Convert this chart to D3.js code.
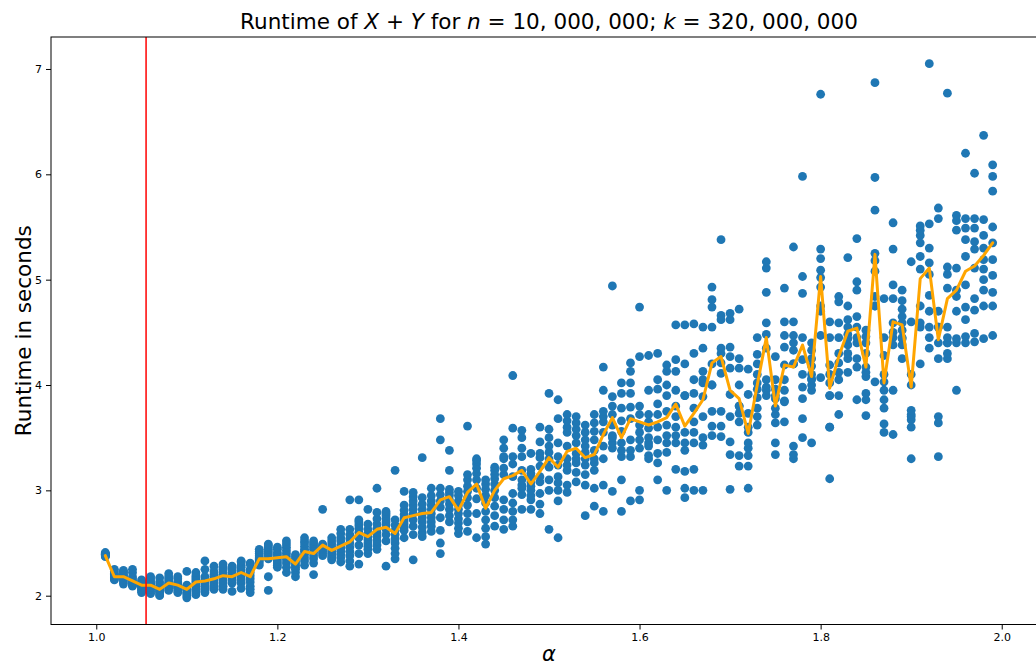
<!DOCTYPE html>
<html>
<head>
<meta charset="utf-8">
<script src="https://cdn.jsdelivr.net/npm/d3@7"></script>
<style>
  html, body { margin: 0; padding: 0; background: #ffffff; }
  svg { display: block; }
  text { font-family: "DejaVu Sans", sans-serif; }
</style>
</head>
<body>
<svg id="chart" width="1036" height="667"></svg>
<script>
// Exponent alpha of each benchmark run
const alphas = [
  1.01, 1.02, 1.03, 1.04, 1.05, 1.06, 1.07, 1.08, 1.09, 1.10,
  1.11, 1.12, 1.13, 1.14, 1.15, 1.16, 1.17, 1.18, 1.19, 1.20,
  1.21, 1.22, 1.23, 1.24, 1.25, 1.26, 1.27, 1.28, 1.29, 1.30,
  1.31, 1.32, 1.33, 1.34, 1.35, 1.36, 1.37, 1.38, 1.39, 1.40,
  1.41, 1.42, 1.43, 1.44, 1.45, 1.46, 1.47, 1.48, 1.49, 1.50,
  1.51, 1.52, 1.53, 1.54, 1.55, 1.56, 1.57, 1.58, 1.59, 1.60,
  1.61, 1.62, 1.63, 1.64, 1.65, 1.66, 1.67, 1.68, 1.69, 1.70,
  1.71, 1.72, 1.73, 1.74, 1.75, 1.76, 1.77, 1.78, 1.79, 1.80,
  1.81, 1.82, 1.83, 1.84, 1.85, 1.86, 1.87, 1.88, 1.89, 1.90,
  1.91, 1.92, 1.93, 1.94, 1.95, 1.96, 1.97, 1.98, 1.99
];

// Measured runtimes (seconds), ten repetitions per alpha
const runtimeSamples = [
  [2.37,2.38,2.38,2.39,2.39,2.39,2.40,2.40,2.41,2.38],
  [2.15,2.16,2.17,2.17,2.18,2.19,2.20,2.21,2.23,2.25],
  [2.11,2.13,2.15,2.16,2.18,2.19,2.20,2.22,2.23,2.24],
  [2.09,2.10,2.11,2.12,2.13,2.14,2.16,2.18,2.22,2.25],
  [2.03,2.05,2.06,2.08,2.09,2.10,2.11,2.12,2.13,2.15],
  [2.02,2.04,2.06,2.08,2.10,2.11,2.12,2.14,2.16,2.18],
  [2.00,2.01,2.03,2.04,2.05,2.06,2.08,2.10,2.13,2.17],
  [2.05,2.07,2.09,2.10,2.11,2.12,2.14,2.16,2.18,2.21],
  [2.03,2.05,2.07,2.08,2.09,2.10,2.12,2.13,2.16,2.18],
  [1.98,2.00,2.02,2.03,2.05,2.06,2.07,2.09,2.10,2.23],
  [2.01,2.04,2.06,2.09,2.11,2.13,2.15,2.17,2.19,2.22],
  [2.03,2.05,2.07,2.09,2.11,2.13,2.15,2.18,2.25,2.33],
  [2.06,2.08,2.10,2.12,2.14,2.16,2.18,2.20,2.23,2.28],
  [2.06,2.09,2.12,2.15,2.18,2.20,2.22,2.25,2.27,2.30],
  [2.04,2.12,2.14,2.16,2.18,2.20,2.22,2.24,2.26,2.28],
  [2.07,2.12,2.15,2.18,2.21,2.24,2.27,2.29,2.32,2.33],
  [2.03,2.06,2.09,2.13,2.16,2.19,2.22,2.25,2.30,2.31],
  [2.29,2.31,2.33,2.34,2.35,2.36,2.38,2.40,2.42,2.44],
  [2.05,2.18,2.35,2.38,2.40,2.42,2.44,2.46,2.48,2.49],
  [2.27,2.29,2.31,2.33,2.35,2.37,2.39,2.41,2.44,2.46],
  [2.22,2.27,2.31,2.34,2.37,2.40,2.43,2.46,2.49,2.52],
  [2.18,2.22,2.25,2.27,2.29,2.31,2.33,2.35,2.37,2.39],
  [2.29,2.33,2.36,2.39,2.42,2.44,2.47,2.50,2.52,2.55],
  [2.20,2.31,2.35,2.38,2.41,2.44,2.46,2.48,2.50,2.52],
  [2.38,2.40,2.42,2.44,2.45,2.46,2.47,2.48,2.49,2.82],
  [2.34,2.36,2.38,2.40,2.42,2.44,2.46,2.49,2.52,2.55],
  [2.32,2.36,2.39,2.42,2.45,2.48,2.52,2.55,2.59,2.63],
  [2.28,2.33,2.38,2.42,2.46,2.50,2.54,2.58,2.63,2.91],
  [2.30,2.40,2.48,2.55,2.60,2.64,2.67,2.70,2.72,2.91],
  [2.40,2.44,2.47,2.50,2.53,2.56,2.59,2.63,2.68,2.82],
  [2.44,2.48,2.52,2.56,2.60,2.64,2.68,2.73,2.79,3.02],
  [2.28,2.52,2.58,2.63,2.67,2.70,2.73,2.76,2.78,2.80],
  [2.35,2.40,2.45,2.50,2.54,2.58,2.62,2.67,2.72,3.19],
  [2.55,2.62,2.65,2.68,2.71,2.74,2.77,2.81,2.86,2.99],
  [2.34,2.58,2.66,2.72,2.78,2.82,2.86,2.90,2.94,2.98],
  [2.56,2.60,2.65,2.70,2.74,2.78,2.82,2.87,2.93,3.31],
  [2.61,2.66,2.70,2.74,2.78,2.82,2.86,2.90,2.95,3.02],
  [2.40,2.50,2.62,2.74,2.84,2.90,2.96,3.02,3.48,3.68],
  [2.70,2.76,2.82,2.87,2.91,2.95,2.98,3.01,3.19,3.38],
  [2.59,2.64,2.69,2.73,2.78,2.82,2.86,2.90,2.95,2.99],
  [2.61,2.70,2.78,2.86,2.93,2.99,3.04,3.10,3.15,3.61],
  [2.55,2.78,2.92,3.02,3.10,3.16,3.21,3.25,3.28,3.30],
  [2.49,2.56,2.64,2.72,2.80,2.88,2.95,3.01,3.06,3.10],
  [2.66,2.76,2.85,2.93,3.00,3.06,3.11,3.15,3.19,3.22],
  [2.63,2.72,2.82,2.91,3.15,3.21,3.30,3.32,3.40,3.48],
  [2.66,2.72,2.80,2.88,2.97,3.13,3.25,3.32,3.59,4.09],
  [2.82,2.96,3.02,3.05,3.10,3.19,3.32,3.40,3.50,3.57],
  [2.82,2.91,2.95,3.00,3.04,3.08,3.12,3.16,3.20,3.35],
  [2.78,2.87,2.97,3.08,3.13,3.23,3.31,3.35,3.46,3.60],
  [2.63,3.00,3.10,3.22,3.30,3.36,3.42,3.50,3.58,3.92],
  [2.55,2.90,3.00,3.07,3.13,3.24,3.32,3.45,3.68,3.86],
  [2.98,3.05,3.19,3.24,3.30,3.42,3.55,3.60,3.66,3.72],
  [3.08,3.17,3.26,3.30,3.35,3.45,3.52,3.58,3.64,3.70],
  [2.76,3.05,3.15,3.24,3.30,3.36,3.42,3.48,3.55,3.62],
  [2.85,3.02,3.19,3.26,3.30,3.38,3.48,3.56,3.64,3.72],
  [2.80,3.05,3.30,3.42,3.55,3.65,3.70,3.75,3.95,4.17],
  [2.99,3.40,3.45,3.50,3.52,3.62,3.72,3.80,3.89,4.94],
  [2.80,3.10,3.32,3.38,3.45,3.56,3.66,3.78,3.92,4.02],
  [2.90,3.32,3.38,3.48,3.68,3.79,3.92,4.02,4.13,4.21],
  [2.91,3.00,3.40,3.48,3.55,3.62,3.72,3.80,4.27,4.74],
  [3.30,3.33,3.42,3.45,3.50,3.59,3.65,3.72,3.95,4.28],
  [3.10,3.26,3.35,3.48,3.60,3.72,3.82,3.96,4.05,4.30],
  [3.00,3.36,3.45,3.52,3.62,3.75,3.90,4.00,4.13,4.19],
  [3.20,3.45,3.52,3.60,3.70,3.80,3.95,4.13,4.24,4.57],
  [2.93,3.02,3.18,3.38,3.45,3.55,3.90,3.90,4.20,4.57],
  [3.00,3.20,3.45,3.55,3.65,3.78,3.92,4.05,4.30,4.58],
  [3.00,3.43,3.50,3.70,3.89,4.02,4.05,4.13,4.35,4.55],
  [3.52,3.61,3.75,4.00,4.00,4.20,4.55,4.74,4.81,4.93],
  [3.51,3.61,3.75,4.11,4.21,4.30,4.35,4.62,4.66,5.38],
  [3.01,3.34,3.46,3.70,3.91,4.16,4.27,4.36,4.62,4.68],
  [3.23,3.33,3.65,3.73,3.80,3.80,4.00,4.16,4.25,4.72],
  [3.02,3.23,3.33,3.40,3.45,3.55,3.60,3.73,3.91,4.15],
  [3.62,3.70,3.78,3.88,3.96,4.02,4.10,4.20,4.29,4.45],
  [3.90,3.95,3.98,4.05,4.35,4.48,4.59,4.88,5.11,5.17],
  [3.34,3.45,3.64,3.72,3.78,3.87,3.90,3.96,4.05,4.27],
  [3.65,3.84,3.85,3.95,4.05,4.19,4.36,4.47,4.60,4.92],
  [3.30,3.34,3.42,4.20,4.20,4.33,4.40,4.47,4.60,5.31],
  [3.50,3.68,3.87,3.98,4.10,4.24,4.45,4.87,5.03,5.98],
  [3.45,3.95,4.00,4.05,4.06,4.10,4.18,4.25,4.33,4.40],
  [4.07,4.47,4.70,4.75,4.93,5.02,5.09,5.20,5.29,6.76],
  [3.11,3.60,3.60,3.90,3.90,4.02,4.10,4.19,4.45,4.60],
  [3.72,3.90,4.05,4.12,4.21,4.30,4.45,4.59,4.79,4.84],
  [4.12,4.25,4.30,4.38,4.44,4.48,4.55,4.62,4.75,5.21],
  [3.86,4.17,4.25,4.40,4.45,4.55,4.65,4.90,4.98,5.39],
  [3.71,3.86,3.92,4.08,4.12,4.17,4.30,4.40,4.46,4.52],
  [4.03,4.75,4.75,4.84,5.08,5.18,5.25,5.66,5.97,6.87],
  [3.55,3.63,3.78,3.86,3.95,4.03,4.10,4.28,4.45,4.82],
  [3.53,3.95,4.38,4.45,4.50,4.59,4.82,4.95,5.29,5.54],
  [4.25,4.38,4.44,4.45,4.52,4.59,4.65,4.72,4.80,4.90],
  [3.30,3.60,3.67,3.70,3.72,3.76,4.00,4.10,4.60,5.17],
  [4.20,4.55,4.59,4.75,5.10,5.22,5.35,5.42,5.47,5.51],
  [4.35,4.45,4.55,4.70,4.85,5.05,5.16,5.30,5.53,7.05],
  [3.32,3.64,3.70,4.25,4.40,4.55,4.55,4.70,5.58,5.68],
  [4.25,4.30,4.40,4.40,4.45,4.55,4.92,5.05,5.12,6.77],
  [3.95,4.40,4.44,4.70,4.84,4.90,5.11,5.47,5.56,5.61],
  [4.40,4.46,4.62,4.74,4.95,5.22,5.38,5.49,5.58,6.20],
  [4.41,4.49,4.71,4.82,5.11,5.29,5.36,5.49,5.58,6.01],
  [4.44,4.75,4.90,5.00,5.10,5.19,5.30,5.42,5.57,6.37],
  [4.47,4.75,4.88,5.04,5.19,5.35,5.50,5.84,5.98,6.09]
];

// Mean runtime per alpha (seconds)
const meanRuntime = [
  2.38, 2.18, 2.18, 2.14, 2.10, 2.10, 2.06, 2.12, 2.10, 2.06,
  2.13, 2.14, 2.16, 2.19, 2.18, 2.22, 2.18, 2.35, 2.35, 2.36,
  2.37, 2.30, 2.42, 2.40, 2.48, 2.43, 2.47, 2.51, 2.60, 2.56,
  2.63, 2.65, 2.59, 2.74, 2.76, 2.78, 2.79, 2.91, 2.94, 2.81,
  2.98, 3.06, 2.83, 3.00, 3.11, 3.14, 3.19, 3.06, 3.18, 3.31,
  3.22, 3.37, 3.40, 3.31, 3.34, 3.53, 3.69, 3.50, 3.68, 3.65,
  3.62, 3.65, 3.69, 3.82, 3.61, 3.73, 3.86, 4.21, 4.27, 3.95,
  3.87, 3.54, 4.00, 4.45, 3.80, 4.19, 4.17, 4.38, 4.08, 5.03,
  3.97, 4.27, 4.51, 4.54, 4.17, 5.24, 4.02, 4.60, 4.57, 3.98,
  5.01, 5.11, 4.43, 4.82, 4.90, 5.08, 5.13, 5.23, 5.35
];

// Best alpha marker
const bestAlpha = 1.055;

const xTicks = [1.0, 1.2, 1.4, 1.6, 1.8, 2.0];
const yTicks = [2, 3, 4, 5, 6, 7];

const svg = d3.select("#chart");
const margin = { left: 51, top: 37, right: 1047, bottom: 624.5 };

svg.append("rect").attr("width", 1036).attr("height", 667).attr("fill", "#ffffff");

const x = d3.scaleLinear().domain([0.95, 2.05]).range([margin.left, margin.right]);
const y = d3.scaleLinear().domain([1.7265, 7.3035]).range([margin.bottom, margin.top]);

svg.append("clipPath").attr("id", "plot-clip")
  .append("rect")
  .attr("x", margin.left).attr("y", margin.top)
  .attr("width", margin.right - margin.left)
  .attr("height", margin.bottom - margin.top);

const plot = svg.append("g").attr("clip-path", "url(#plot-clip)");

// Individual runs
const points = [];
alphas.forEach((a, i) => runtimeSamples[i].forEach(v => points.push({ a, v })));
plot.append("g")
  .selectAll("circle")
  .data(points)
  .join("circle")
  .attr("cx", d => x(d.a))
  .attr("cy", d => y(d.v))
  .attr("r", 4.4)
  .attr("fill", "#1f77b4");

// Mean runtime line
const line = d3.line().x((d, i) => x(alphas[i])).y(d => y(d));
plot.append("path")
  .datum(meanRuntime)
  .attr("d", line)
  .attr("fill", "none")
  .attr("stroke", "#ffa500")
  .attr("stroke-width", 3)
  .attr("stroke-linejoin", "round")
  .attr("stroke-linecap", "round");

// Vertical marker at the best alpha
plot.append("line")
  .attr("x1", x(bestAlpha)).attr("x2", x(bestAlpha))
  .attr("y1", margin.top).attr("y2", margin.bottom)
  .attr("stroke", "#ff0000")
  .attr("stroke-width", 1.5);

// Axes
const xAxis = svg.append("g")
  .attr("transform", `translate(0,${margin.bottom})`)
  .call(d3.axisBottom(x).tickValues(xTicks).tickFormat(d3.format(".1f")).tickSize(5).tickPadding(4));
const yAxis = svg.append("g")
  .attr("transform", `translate(${margin.left},0)`)
  .call(d3.axisLeft(y).tickValues(yTicks).tickFormat(d3.format("d")).tickSize(5).tickPadding(4));

[xAxis, yAxis].forEach(g => {
  g.select(".domain").remove();
  g.selectAll("text").attr("font-family", "DejaVu Sans").attr("font-size", 11).attr("fill", "#000");
  g.selectAll("line").attr("stroke", "#000").attr("stroke-width", 1);
});

// Frame
svg.append("rect")
  .attr("x", margin.left).attr("y", margin.top)
  .attr("width", margin.right - margin.left)
  .attr("height", margin.bottom - margin.top)
  .attr("fill", "none")
  .attr("stroke", "#000")
  .attr("stroke-width", 1);

// Title
const title = svg.append("text")
  .attr("x", (margin.left + margin.right) / 2)
  .attr("y", 29)
  .attr("text-anchor", "middle")
  .attr("font-size", 21.5)
  .attr("fill", "#000");
const titleParts = [
  ["Runtime of ", false], ["X", true], [" + ", false], ["Y", true],
  [" for ", false], ["n", true], [" = 10, 000, 000; ", false],
  ["k", true], [" = 320, 000, 000", false]
];
titleParts.forEach(([t, it]) => {
  title.append("tspan").attr("font-style", it ? "italic" : "normal").text(t);
});

// Axis labels
svg.append("text")
  .attr("x", (margin.left + margin.right) / 2)
  .attr("y", 661)
  .attr("text-anchor", "middle")
  .attr("font-size", 21)
  .attr("font-style", "italic")
  .attr("fill", "#000")
  .text("α");

svg.append("text")
  .attr("transform", `translate(31,${(margin.top + margin.bottom) / 2}) rotate(-90)`)
  .attr("text-anchor", "middle")
  .attr("font-size", 21.5)
  .attr("fill", "#000")
  .text("Runtime in seconds");
</script>
</body>
</html>
